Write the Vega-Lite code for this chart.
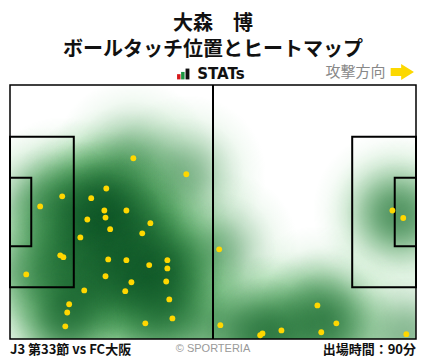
{
  "$schema": "https://vega.github.io/schema/vega-lite/v6.json",
  "width": 406,
  "height": 254,
  "autosize": "none",
  "padding": {"left": 10, "top": 85, "right": 12, "bottom": 20},
  "background": "white",
  "view": {"stroke": null},
  "title": {
    "text": ["大森　博", "ボールタッチ位置とヒートマップ"],
    "font": "Noto Sans CJK JP",
    "fontSize": 20,
    "fontWeight": "bold",
    "lineHeight": 26,
    "color": "#111111",
    "anchor": "middle",
    "offset": 4
  },
  "datasets": {
    "touches": [
      {"x": 31.9, "y": 19.6}, {"x": 45.6, "y": 23.9}, {"x": 24.9, "y": 27.7}, {"x": 13.5, "y": 29.8},
      {"x": 21.0, "y": 30.3}, {"x": 7.8, "y": 32.5}, {"x": 24.4, "y": 33.6}, {"x": 30.1, "y": 33.6},
      {"x": 24.7, "y": 35.5}, {"x": 20.0, "y": 36.0}, {"x": 36.3, "y": 37.0}, {"x": 25.9, "y": 38.6},
      {"x": 34.2, "y": 39.7}, {"x": 18.2, "y": 40.8}, {"x": 13.0, "y": 45.6}, {"x": 13.8, "y": 46.1},
      {"x": 25.4, "y": 46.7}, {"x": 30.1, "y": 46.9}, {"x": 36.0, "y": 48.2}, {"x": 40.7, "y": 46.9},
      {"x": 40.7, "y": 49.1}, {"x": 4.2, "y": 50.7}, {"x": 24.7, "y": 51.2}, {"x": 31.4, "y": 52.8},
      {"x": 40.4, "y": 52.6}, {"x": 19.2, "y": 55.0}, {"x": 29.8, "y": 55.2}, {"x": 41.2, "y": 57.4},
      {"x": 15.3, "y": 58.7}, {"x": 14.8, "y": 60.9}, {"x": 42.0, "y": 62.5}, {"x": 35.0, "y": 63.8},
      {"x": 14.3, "y": 64.6}, {"x": 98.9, "y": 33.6}, {"x": 101.7, "y": 35.6}, {"x": 54.1, "y": 44.0},
      {"x": 79.5, "y": 59.0}, {"x": 54.4, "y": 64.3}, {"x": 84.4, "y": 63.8}, {"x": 70.2, "y": 65.7},
      {"x": 80.5, "y": 66.2}, {"x": 65.3, "y": 66.5}, {"x": 64.7, "y": 67.0}, {"x": 102.5, "y": 66.7}
    ],
    "pitch": [
      {"part": "halfway", "x": 52.5, "x2": 52.5, "y": 0, "y2": 68},
      {"part": "left penalty", "x": 0, "x2": 16.5, "y": 13.84, "y2": 54.16},
      {"part": "left goal", "x": 0, "x2": 5.5, "y": 24.84, "y2": 43.16},
      {"part": "right penalty", "x": 88.5, "x2": 105, "y": 13.84, "y2": 54.16},
      {"part": "right goal", "x": 99.5, "x2": 105, "y": 24.84, "y2": 43.16}
    ],
    "outline": [
      {"part": "pitch", "x": 0, "x2": 105, "y": 0, "y2": 68}
    ]
  },
  "layer": [
    {
      "data": {"name": "touches"},
      "mark": {
        "type": "circle",
        "clip": true,
        "size": 25447,
        "opacity": 1,
        "fill": {
          "gradient": "radial",
          "stops": [
            {"offset": 0, "color": "rgba(90,188,100,0.42)"},
            {"offset": 0.2, "color": "rgba(90,188,100,0.37)"},
            {"offset": 0.4, "color": "rgba(90,188,100,0.255)"},
            {"offset": 0.6, "color": "rgba(90,188,100,0.135)"},
            {"offset": 0.8, "color": "rgba(90,188,100,0.055)"},
            {"offset": 1, "color": "rgba(90,188,100,0)"}
          ]
        }
      },
      "encoding": {
        "x": {"field": "x", "type": "quantitative", "scale": {"domain": [0, 105], "nice": false, "zero": false}, "axis": null},
        "y": {"field": "y", "type": "quantitative", "scale": {"domain": [0, 68], "nice": false, "zero": false, "reverse": true}, "axis": null}
      }
    },
    {
      "data": {"name": "touches"},
      "mark": {
        "type": "circle",
        "clip": true,
        "size": 13273,
        "opacity": 1,
        "fill": {
          "gradient": "radial",
          "stops": [
            {"offset": 0, "color": "rgba(0,68,27,0.26)"},
            {"offset": 0.2, "color": "rgba(0,68,27,0.229)"},
            {"offset": 0.4, "color": "rgba(0,68,27,0.159)"},
            {"offset": 0.6, "color": "rgba(0,68,27,0.083)"},
            {"offset": 0.8, "color": "rgba(0,68,27,0.035)"},
            {"offset": 1, "color": "rgba(0,68,27,0)"}
          ]
        }
      },
      "encoding": {
        "x": {"field": "x", "type": "quantitative"},
        "y": {"field": "y", "type": "quantitative"}
      }
    },
    {
      "data": {"name": "outline"},
      "mark": {"type": "rect", "filled": false, "stroke": "black", "strokeWidth": 1.5},
      "encoding": {
        "x": {"field": "x", "type": "quantitative"},
        "x2": {"field": "x2"},
        "y": {"field": "y", "type": "quantitative"},
        "y2": {"field": "y2"}
      }
    },
    {
      "data": {"name": "pitch"},
      "mark": {"type": "rect", "filled": false, "stroke": "black", "strokeWidth": 2},
      "encoding": {
        "x": {"field": "x", "type": "quantitative"},
        "x2": {"field": "x2"},
        "y": {"field": "y", "type": "quantitative"},
        "y2": {"field": "y2"}
      }
    },
    {
      "data": {"name": "touches"},
      "mark": {"type": "circle", "size": 34, "opacity": 1, "color": "#ffd700"},
      "encoding": {
        "x": {"field": "x", "type": "quantitative"},
        "y": {"field": "y", "type": "quantitative"}
      }
    },
    {
      "data": {"values": [{}]},
      "mark": {"type": "rect", "color": "#d7191c"},
      "encoding": {
        "x": {"datum": 43.2, "type": "quantitative"}, "x2": {"datum": 44.1},
        "y": {"datum": -2.9, "type": "quantitative"}, "y2": {"datum": -1.5}
      }
    },
    {
      "data": {"values": [{}]},
      "mark": {"type": "rect", "color": "#1a9641"},
      "encoding": {
        "x": {"datum": 44.25, "type": "quantitative"}, "x2": {"datum": 45.15},
        "y": {"datum": -3.5, "type": "quantitative"}, "y2": {"datum": -1.5}
      }
    },
    {
      "data": {"values": [{}]},
      "mark": {"type": "rect", "color": "#111111"},
      "encoding": {
        "x": {"datum": 45.4, "type": "quantitative"}, "x2": {"datum": 46.4},
        "y": {"datum": -4.4, "type": "quantitative"}, "y2": {"datum": -1.5}
      }
    },
    {
      "data": {"values": [{}]},
      "mark": {"type": "text", "text": "STATs", "font": "DejaVu Sans", "fontWeight": "bold", "fontSize": 15, "align": "left", "baseline": "alphabetic", "color": "#111111"},
      "encoding": {
        "x": {"datum": 48.4, "type": "quantitative"},
        "y": {"datum": -1.55, "type": "quantitative"}
      }
    },
    {
      "data": {"values": [{}]},
      "mark": {"type": "text", "text": "攻撃方向", "font": "Noto Sans CJK JP", "fontSize": 15, "align": "center", "baseline": "middle", "color": "#888888"},
      "encoding": {
        "x": {"datum": 89.35, "type": "quantitative"},
        "y": {"datum": -3.6, "type": "quantitative"}
      }
    },
    {
      "data": {"values": [{}]},
      "mark": {"type": "point", "filled": true, "opacity": 1, "color": "#fcd800", "size": 543, "shape": "M -1 -0.34 L -0.1 -0.34 L -0.1 -0.69 L 1 0 L -0.1 0.69 L -0.1 0.34 L -1 0.34 Z"},
      "encoding": {
        "x": {"datum": 101.46, "type": "quantitative"},
        "y": {"datum": -3.48, "type": "quantitative"}
      }
    },
    {
      "data": {"values": [{}]},
      "mark": {"type": "text", "text": "J3 第33節 vs FC大阪", "font": "Noto Sans CJK JP", "fontWeight": "bold", "fontSize": 13, "align": "left", "baseline": "alphabetic", "color": "#111111"},
      "encoding": {
        "x": {"datum": 0, "type": "quantitative"},
        "y": {"datum": 71.9, "type": "quantitative"}
      }
    },
    {
      "data": {"values": [{}]},
      "mark": {"type": "text", "text": "© SPORTERIA", "font": "Liberation Sans", "fontSize": 11, "align": "center", "baseline": "alphabetic", "color": "#999999"},
      "encoding": {
        "x": {"datum": 52.5, "type": "quantitative"},
        "y": {"datum": 71.5, "type": "quantitative"}
      }
    },
    {
      "data": {"values": [{}]},
      "mark": {"type": "text", "text": "出場時間：90分", "font": "Noto Sans CJK JP", "fontWeight": "bold", "fontSize": 13, "align": "right", "baseline": "alphabetic", "color": "#111111"},
      "encoding": {
        "x": {"datum": 105, "type": "quantitative"},
        "y": {"datum": 71.9, "type": "quantitative"}
      }
    }
  ]
}
